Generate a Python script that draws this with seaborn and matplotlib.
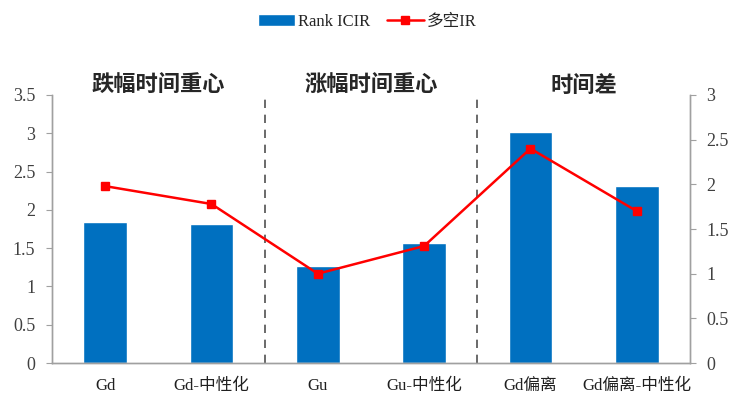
import pandas as pd
import matplotlib.pyplot as plt
import seaborn as sns
from matplotlib.patches import Patch
from matplotlib.lines import Line2D

categories = ['Gd', 'Gd-中性化', 'Gu', 'Gu-中性化', 'Gd偏离', 'Gd偏离-中性化']
rank_icir = [1.84, 1.81, 1.27, 1.57, 3.02, 2.31]
long_short_ir = [1.98, 1.78, 1.00, 1.31, 2.40, 1.70]
group_labels = ['跌幅时间重心', '涨幅时间重心', '时间差']

sns.set_style('white')
plt.rcParams['font.family'] = ['Liberation Serif', 'Noto Sans CJK SC']

df = pd.DataFrame({'factor': categories, 'Rank ICIR': rank_icir, '多空IR': long_short_ir})

fig = plt.figure(figsize=(7.35, 3.99), dpi=100)
ax = fig.add_axes([0.0707, 0.090, 0.868, 0.672])

sns.barplot(data=df, x='factor', y='Rank ICIR', color='#0070C0', width=0.41,
            saturation=1, ax=ax)
ax.set_ylim(0, 3.5)
ax.set_xlim(-0.5, 5.5)
ax.set_yticks([0, 0.5, 1, 1.5, 2, 2.5, 3, 3.5])
ax.set_yticklabels(['0', '0.5', '1', '1.5', '2', '2.5', '3', '3.5'])
ax.set_xlabel('')
ax.set_ylabel('')

ax2 = ax.twinx()
ax2.plot(range(len(categories)), df['多空IR'], color='#FF0000', marker='s',
         markersize=6, linewidth=1.8)
ax2.set_ylim(0, 3)
ax2.set_yticks([0, 0.5, 1, 1.5, 2, 2.5, 3])
ax2.set_yticklabels(['0', '0.5', '1', '1.5', '2', '2.5', '3'])

for a in (ax, ax2):
    a.spines['top'].set_visible(False)
    for side in ['left', 'right', 'bottom']:
        a.spines[side].set_color('#A0A0A0')
        a.spines[side].set_linewidth(1)
    a.tick_params(axis='y', labelsize=13, colors='#404040', length=4,
                  color='#A0A0A0', direction='out')

ax.tick_params(axis='y', left=True, labelleft=True, pad=8)
ax2.tick_params(axis='y', right=True, labelright=True, pad=8)
ax.tick_params(axis='x', labelsize=12, length=0, pad=11, colors='#202020')
ax.set_xticks([0.5, 1.5, 2.5, 3.5, 4.5], minor=True)
ax.tick_params(axis='x', which='minor', length=4, color='#A0A0A0', direction='in')

# group separators and labels
for xpos in [1.5, 3.5]:
    ax.axvline(xpos, color='#505050', linestyle=(0, (5, 4)), linewidth=1.2)
for i, lab in enumerate(group_labels):
    ax.text(2 * i + 0.5, 3.48, lab, ha='center', va='bottom', fontsize=16,
            fontweight='bold', family=['Noto Sans CJK SC'])

handles = [Patch(facecolor='#0070C0', label='Rank ICIR'),
           Line2D([0], [0], color='#FF0000', marker='s', markersize=6,
                  linewidth=1.8, label='多空IR')]
fig.legend(handles=handles, loc='center', bbox_to_anchor=(0.5, 0.945), ncol=2,
           frameon=False, fontsize=12, handlelength=2.2, columnspacing=1.0,
           handletextpad=0.2)

fig.savefig('out.png', dpi=100)
